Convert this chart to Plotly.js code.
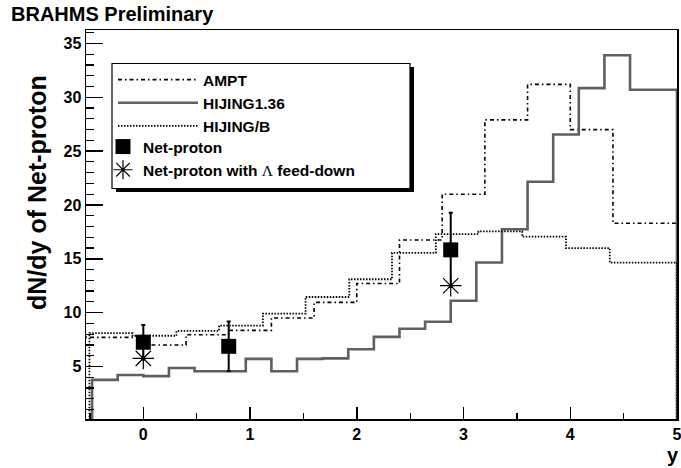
<!DOCTYPE html>
<html>
<head>
<meta charset="utf-8">
<script src="https://cdn.plot.ly/plotly-3.0.1.min.js"></script>
<style>html,body{margin:0;padding:0;background:#fff;}#chart{width:681px;height:468px;}</style>
</head>
<body>
<div id="chart"></div>
<script>
// ---- data ----
// HIJING1.36 (solid grey histogram): bin edges and contents
const hijingEdges = [-0.48, -0.24, 0.0, 0.24, 0.48, 0.72, 0.96, 1.2, 1.44, 1.68, 1.92, 2.16, 2.4, 2.64, 2.88, 3.12, 3.36, 3.6, 3.84, 4.08, 4.32, 4.56, 4.8, 5.0];
const hijingValues = [3.75, 4.2, 4.1, 4.85, 4.55, 4.55, 5.7, 4.55, 5.7, 5.75, 6.6, 7.75, 8.5, 9.15, 11.1, 14.65, 17.75, 22.15, 26.55, 30.85, 33.9, 30.7, 30.7];

// AMPT (dash-dot histogram)
const amptEdges = [-0.8, -0.4, 0.0, 0.4, 0.8, 1.2, 1.6, 2.0, 2.4, 2.8, 3.2, 3.6, 4.0, 4.4, 4.8, 5.0];
const amptValues = [7.7, 7.7, 7.0, 7.95, 8.35, 9.5, 10.95, 12.7, 16.75, 21.0, 27.9, 31.2, 27.0, 18.3, 18.3];

// HIJING/B (dotted histogram)
const hijingBEdges = [-0.505, -0.1, 0.31, 0.71, 1.12, 1.52, 1.93, 2.33, 2.74, 3.14, 3.55, 3.96, 4.37, 4.77, 5.0];
const hijingBValues = [8.1, 7.85, 8.3, 8.8, 9.9, 11.45, 13.1, 15.55, 17.3, 17.55, 17.05, 16.0, 14.65, 14.65];

// Net-proton (filled squares with errors)
const netProtonY = [0.0, 0.8, 2.88];
const netProtonVal = [7.25, 6.87, 15.83];
const netProtonErr = [1.6, 2.3, 3.45];

// Net-proton with Lambda feed-down (stars)
const feedDownY = [0.0, 2.88];
const feedDownVal = [5.75, 12.5];

const yTicks = [5, 10, 15, 20, 25, 30, 35];
const xTicks = [0, 1, 2, 3, 4, 5];

// ---- build step outlines from bin edges ----
function stepXY(edges, vals) {
  const x = [edges[0]], y = [0];
  for (let i = 0; i < vals.length; i++) { x.push(edges[i]); y.push(vals[i]); }
  x.push(edges[edges.length - 1]); y.push(vals[vals.length - 1]);
  x.push(edges[edges.length - 1]); y.push(0);
  return {x, y};
}
const sA = stepXY(amptEdges, amptValues);
const sH = stepXY(hijingEdges, hijingValues);
const sB = stepXY(hijingBEdges, hijingBValues);

const FONT = 'Liberation Sans, Arial, Helvetica, sans-serif';

// plot-area geometry (pixels) used to place the legend box
const PL = 86, PR = 677, PT = 30, PB = 419;
const px = v => (v - PL) / (PR - PL);
const py = v => (PB - v) / (PB - PT);

const traces = [
  {x: sA.x, y: sA.y, mode: 'lines', name: 'AMPT', legend: 'legend',
   line: {shape: 'hv', color: '#000', width: 1.6, dash: '4px,3px,1.5px,3px'}},
  {x: sH.x, y: sH.y, mode: 'lines', name: 'HIJING1.36', legend: 'legend',
   line: {shape: 'hv', color: '#5f5f5f', width: 2.6}},
  {x: sB.x, y: sB.y, mode: 'lines', name: 'HIJING/B', legend: 'legend',
   line: {shape: 'hv', color: '#000', width: 1.8, dash: '1.5px,1.5px'}},
  {x: netProtonY, y: netProtonVal, mode: 'markers', name: 'Net-proton', legend: 'legend2',
   marker: {symbol: 'square', size: 15, color: '#000'},
   error_y: {type: 'data', array: netProtonErr, visible: true, color: '#000', thickness: 2, width: 2}},
  {x: feedDownY, y: feedDownVal, mode: 'markers', legend: 'legend2',
   name: 'Net-proton with <span style="font-family:Liberation Serif, Times New Roman, serif;font-weight:normal">Λ</span> feed-down',
   marker: {symbol: 'asterisk-open', size: 18, color: '#000', line: {color: '#000', width: 1.2}}}
];

const legFont = {family: FONT, size: 15.5, weight: 'bold', color: '#000'};

const layout = {
  width: 681, height: 468,
  margin: {l: 86, r: 4, t: 30, b: 49},
  paper_bgcolor: '#fff', plot_bgcolor: '#fff',
  showlegend: true,
  font: {family: FONT, size: 16, color: '#000', weight: 'bold'},
  title: {text: 'BRAHMS Preliminary', x: 11 / 681, xanchor: 'left', xref: 'container',
          y: 1 - 6.5 / 468, yanchor: 'top', yref: 'container',
          font: {family: FONT, size: 20, weight: 'bold', color: '#000'}},
  xaxis: {range: [-0.537, 5.0], showgrid: false, zeroline: false,
          showline: true, linecolor: '#000', linewidth: 1.5, mirror: true,
          ticks: 'inside', ticklen: 12, tickwidth: 1.5, tickcolor: '#000',
          tickvals: xTicks, ticktext: xTicks.map(String), ticklabeloverflow: 'allow',
          tickfont: {family: FONT, size: 16, weight: 'bold'},
          minor: {dtick: 0.5, ticklen: 6, tickwidth: 1.2, tickcolor: '#000', ticks: 'inside', showgrid: false}},
  yaxis: {range: [0.12, 36.25], showgrid: false, zeroline: false,
          showline: true, linecolor: '#000', linewidth: 1.5, mirror: true,
          ticks: 'inside', ticklen: 17, tickwidth: 1.5, tickcolor: '#000',
          tickvals: yTicks, ticktext: yTicks.map(String),
          tickfont: {family: FONT, size: 16, weight: 'bold'},
          minor: {dtick: 1, ticklen: 8, tickwidth: 1.2, tickcolor: '#000', ticks: 'inside', showgrid: false}},
  legend: {x: px(113), y: py(63), xanchor: 'left', yanchor: 'top',
           bgcolor: 'rgba(0,0,0,0)', borderwidth: 0,
           font: legFont, itemwidth: 80, tracegroupgap: 0, traceorder: 'normal'},
  legend2: {x: px(103), y: py(130), xanchor: 'left', yanchor: 'top',
           bgcolor: 'rgba(0,0,0,0)', borderwidth: 0,
           font: legFont, itemwidth: 30, tracegroupgap: 0, traceorder: 'normal'},
  shapes: [
    {type: 'rect', xref: 'paper', yref: 'paper', layer: 'above',
     x0: px(116), x1: px(414), y0: py(192), y1: py(67),
     fillcolor: '#000', line: {width: 0}},
    {type: 'rect', xref: 'paper', yref: 'paper', layer: 'above',
     x0: px(112), x1: px(410), y0: py(188.5), y1: py(63.5),
     fillcolor: '#fff', line: {width: 1.2, color: '#000'}}
  ],
  annotations: [
    {text: 'dN/dy of Net-proton', xref: 'paper', yref: 'paper', x: px(37), y: py(193),
     xanchor: 'center', yanchor: 'middle', textangle: -90, showarrow: false,
     font: {family: FONT, size: 25, weight: 'bold', color: '#000'}},
    {text: 'y', xref: 'paper', yref: 'paper', x: px(681), y: py(467.5),
     xanchor: 'right', yanchor: 'bottom', showarrow: false,
     font: {family: FONT, size: 20, weight: 'bold', color: '#000'}}
  ]
};

Plotly.newPlot('chart', traces, layout, {displayModeBar: false, staticPlot: true});
</script>
</body>
</html>
